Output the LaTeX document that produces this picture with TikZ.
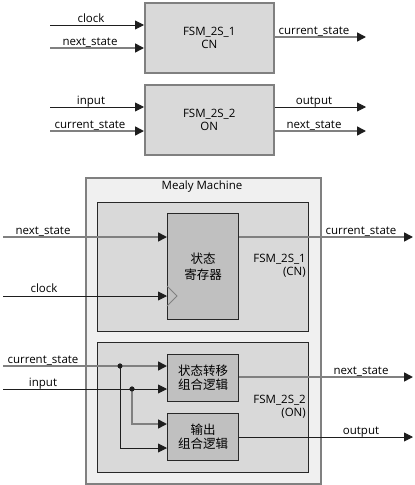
\documentclass[tikz,border=0pt]{standalone}
\usepackage{fontspec}
\setmainfont{Open Sans}
\newfontfamily\cjk{Noto Sans CJK SC}
\usetikzlibrary{arrows.meta}
\definecolor{gline}{RGB}{128,128,128}
\definecolor{dline}{RGB}{30,30,30}
\definecolor{tipc}{RGB}{30,30,30}
\definecolor{boxfill}{RGB}{217,217,217}
\definecolor{regfill}{RGB}{192,192,192}
\definecolor{mealyfill}{RGB}{240,240,240}
\definecolor{bordg}{RGB}{128,128,128}
\definecolor{bordd}{RGB}{40,40,40}
\begin{document}
\begin{tikzpicture}[x=1pt,y=-1pt,
  every node/.style={font=\fontsize{11.5}{13}\selectfont, inner sep=0pt},
  tip/.style={-{Triangle[length=9pt,width=9pt,color=tipc]}},
  gl/.style={draw=gline, line width=1.6pt},
  dl/.style={draw=dline, line width=0.9pt},
  topbox/.style={draw=bordg, line width=1.5pt, fill=boxfill, anchor=north west, align=center},
  inbox/.style={draw=bordd, line width=1pt, fill=boxfill, anchor=north west},
  logic/.style={draw=bordd, line width=1pt, fill=regfill, anchor=north west, align=center, font=\cjk\fontsize{12.5}{14}\selectfont},
  lbl/.style={anchor=base},
  dot/.style={circle, fill=dline, minimum size=5pt, inner sep=0pt}
]
\useasboundingbox (0,0) rectangle (415,485);

% ---------- top: FSM_2S_1 ----------
\node[topbox, minimum width=129pt, minimum height=70pt] (b1) at (144,2) {};
\node (b1t) at (b1.center) [align=center] {FSM\_2S\_1\\CN};
\coordinate (c1) at (50,25);
\coordinate (c2) at (50,48);
\coordinate (c3) at (366,37);
\draw[dl,tip] (c1) -- (c1 -| b1.west);
\draw[gl,tip] (c2) -- (c2 -| b1.west);
\draw[gl,tip] (c3 -| b1.east) -- (c3);
\node[lbl] (l1) at (91,22.5) {clock};
\node[lbl] (l2) at (90,45.5) {next\_state};
\node[lbl] (l3) at (314,34) {current\_state};

% ---------- top: FSM_2S_2 ----------
\node[topbox, minimum width=129pt, minimum height=70pt] (b2) at (144,84) {};
\node (b2t) at (b2.center) [align=center] {FSM\_2S\_2\\ON};
\coordinate (c4) at (50,107);
\coordinate (c5) at (50,131);
\coordinate (c6) at (366,107);
\coordinate (c7) at (366,131);
\draw[dl,tip] (c4) -- (c4 -| b2.west);
\draw[gl,tip] (c5) -- (c5 -| b2.west);
\draw[dl,tip] (c6 -| b2.east) -- (c6);
\draw[gl,tip] (c7 -| b2.east) -- (c7);
\node[lbl] (l4) at (91,104) {input};
\node[lbl] (l5) at (90,128) {current\_state};
\node[lbl] (l6) at (314,104) {output};
\node[lbl] (l7) at (314,128) {next\_state};

% ---------- bottom: Mealy machine ----------
\node[draw=bordg, line width=1.5pt, fill=mealyfill, anchor=north west,
      minimum width=235pt, minimum height=306pt] (mealy) at (85,177) {};
\node (mt) at (202,187) {Mealy Machine};

\node[inbox, minimum width=211pt, minimum height=129pt] (in1) at (97,202) {};
\node[inbox, minimum width=211pt, minimum height=130pt] (in2) at (97,342) {};

\node[logic, minimum width=71pt, minimum height=106pt] (reg) at (167,213) {状态\\[2pt]寄存器};
\draw[draw=gline, line width=0.9pt] (reg.west |- 0,286) -- (177,296) -- (reg.west |- 0,306);

\node[anchor=east, align=right] (f1) at (306,265.5) {FSM\_2S\_1\\(CN)};

\coordinate (d1) at (3,237);
\coordinate (d2) at (3,296);
\coordinate (d3) at (413,237);
\draw[gl,tip] (d1) -- (d1 -| reg.west);
\draw[dl,tip] (d2) -- (d2 -| reg.west);
\draw[gl,tip] (d3 -| reg.east) -- (d3);
\node[lbl] (l8) at (43,234) {next\_state};
\node[lbl] (l9) at (44,292.5) {clock};
\node[lbl] (l10) at (361,234) {current\_state};

\node[logic, minimum width=71pt, minimum height=47pt] (st) at (167,354) {状态转移\\组合逻辑};
\node[logic, minimum width=71pt, minimum height=47pt] (out) at (167,413) {输出\\组合逻辑};
\node[anchor=east, align=right] (f2) at (306,407) {FSM\_2S\_2\\(ON)};

\coordinate (e1) at (3,366);
\coordinate (e2) at (3,389);
\node[dot] (p1) at (120,366) {};
\node[dot] (p2) at (132,389) {};
\coordinate (e3) at (413,377);
\coordinate (e4) at (413,437);
\draw[gl,tip] (e1) -- (e1 -| st.west);
\draw[dl,tip] (e2) -- (e2 -| st.west);
\draw[dl,tip] (p1.center) |- (out.west |- 0,448);
\draw[gl,tip] (p2.center) |- (out.west |- 0,424);
\draw[gl,tip] (e3 -| st.east) -- (e3);
\draw[dl,tip] (e4 -| out.east) -- (e4);
\node[dot] at (p1) {};
\node[dot] at (p2) {};
\node[lbl] (l11) at (43,363) {current\_state};
\node[lbl] (l12) at (43,386) {input};
\node[lbl] (l13) at (361,374) {next\_state};
\node[lbl] (l14) at (361,434) {output};
\end{tikzpicture}
\end{document}
